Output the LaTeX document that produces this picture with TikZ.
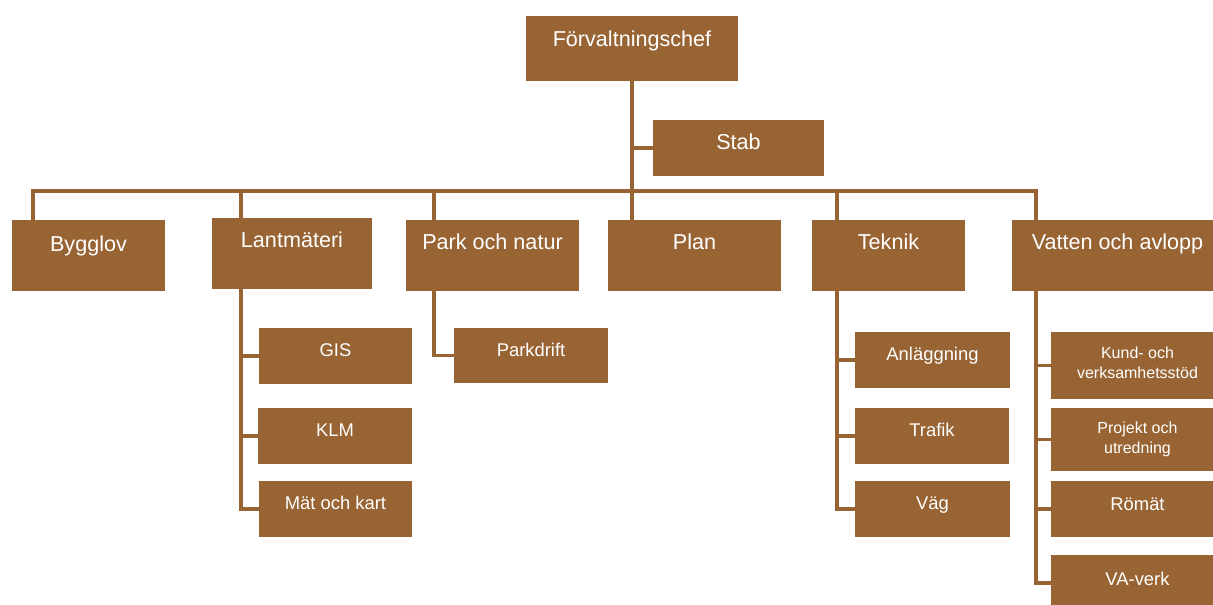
\documentclass[tikz,border=0pt]{standalone}
\usepackage{fontspec}
\setmainfont{Liberation Sans}
\definecolor{brn}{RGB}{152,100,52}

\tikzset{
  box/.style n args={3}{fill=brn, text=white, inner xsep=0pt, inner ysep=0pt,
    minimum width=#1*0.75pt, text height=#3*0.75pt, text depth=#2*0.75pt-#3*0.75pt},
  big/.style={font=\fontsize{16.2}{19}\selectfont},
  mid/.style={font=\fontsize{13.8}{16}\selectfont},
  sml/.style={font=\fontsize{12}{15}\selectfont, align=center},
  link/.style={draw=brn, line width=2.5pt},
}

\begin{document}
\begin{tikzpicture}[x=0.75pt, y=-0.75pt]
  \path[use as bounding box, clip] (0,0) rectangle (1213,605);

  % top
  \node[box={212}{65}{31}, big] (fc) at (632,48.5) {Förvaltningschef};
  \node[box={171}{56}{30}, big] (stab) at (738.5,148) {Stab};

  % avdelningar
  \node[box={153}{71}{32}, big] (bygglov) at (88.5,255.5) {Bygglov};
  \node[box={160}{71}{30}, big] (lant) at (292,253.5) {Lantmäteri};
  \node[box={173}{71}{30}, big] (park) at (492.5,255.5) {Park och natur};
  \node[box={173}{71}{30}, big] (plan) at (694.5,255.5) {Plan};
  \node[box={153}{71}{30}, big] (teknik) at (888.5,255.5) {Teknik};
  \node[box={211}{71}{30}, big] (vatten) at (1117.5,255.5) {Vatten och avlopp};

  % enheter
  \node[box={153}{56}{29}, mid] (gis) at (335.5,356) {GIS};
  \node[box={154}{56}{29}, mid] (klm) at (335,436) {KLM};
  \node[box={153}{56}{28}, mid] (mat) at (335.5,509) {Mät och kart};
  \node[box={154}{55}{29}, mid] (parkdrift) at (531,355.5) {Parkdrift};
  \node[box={155}{56}{29}, mid] (ank) at (932.5,360) {Anläggning};
  \node[box={154}{56}{28}, mid] (trafik) at (932,436) {Trafik};
  \node[box={155}{56}{28}, mid] (vag) at (932.5,509) {Väg};
  \node[box={173}{67}{47}, sml] (kund) at (1137.5,365.5) {Kund- och\\verksamhetsstöd};
  \node[box={173}{63}{46}, sml] (proj) at (1137.5,439.5) {Projekt och\\utredning};
  \node[box={173}{56}{29}, mid] (romat) at (1137.5,509) {Römät};
  \node[box={173}{56}{30}, mid] (vaverk) at (1137.5,583) {VA-verk};

  % linjer
  \coordinate (bl) at (33,191);
  \coordinate (br) at (1036,191);
  \coordinate (lt) at (241,191);
  \coordinate (pk) at (434,191);
  \coordinate (tk) at (837,191);

  \draw[link] (fc.south) -- (fc.south |- plan.north);
  \draw[link] (fc.south |- stab.west) -- (stab.west);
  \draw[link] (bl |- bygglov.north) -- (bl) -- (br) -- (br |- vatten.north);
  \draw[link] (lt) -- (lt |- lant.north);
  \draw[link] (pk) -- (pk |- park.north);
  \draw[link] (tk) -- (tk |- teknik.north);

  \draw[link] (lt |- lant.south) |- (gis.west);
  \draw[link] (lt |- lant.south) |- (klm.west);
  \draw[link] (lt |- lant.south) |- (mat.west);
  \draw[link] (pk |- park.south) |- (parkdrift.west);
  \draw[link] (tk |- teknik.south) |- (ank.west);
  \draw[link] (tk |- teknik.south) |- (trafik.west);
  \draw[link] (tk |- teknik.south) |- (vag.west);
  \draw[link] (br |- vatten.south) |- (kund.west);
  \draw[link] (br |- vatten.south) |- (proj.west);
  \draw[link] (br |- vatten.south) |- (romat.west);
  \draw[link] (br |- vatten.south) |- (vaverk.west);
\end{tikzpicture}
\end{document}
